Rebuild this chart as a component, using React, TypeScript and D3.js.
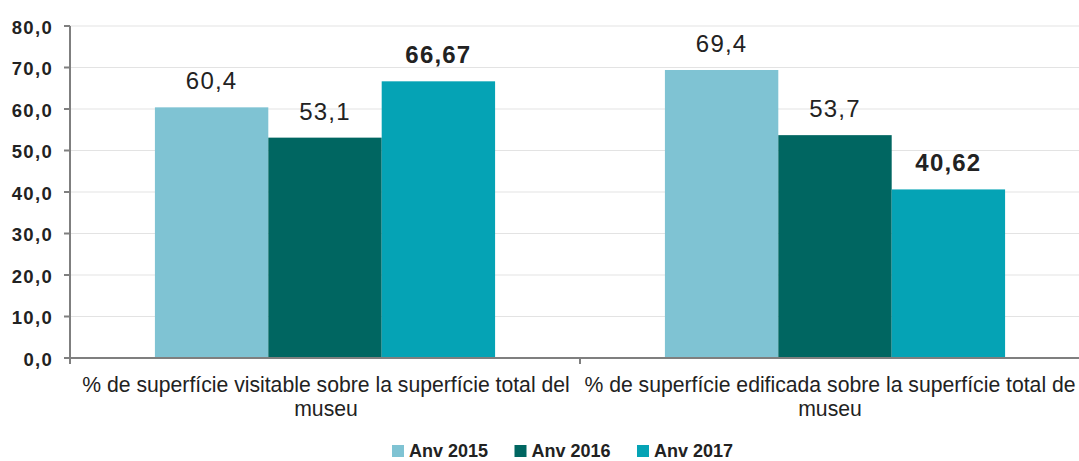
import React, { useRef, useEffect } from "react";
import * as d3 from "d3";

const categories = [
  ["% de superfície visitable sobre la superfície total del", "museu"],
  ["% de superfície edificada sobre la superfície total de", "museu"],
];
const seriesNames = ["Anv 2015", "Anv 2016", "Anv 2017"];
const values2015 = [60.4, 69.4];
const values2016 = [53.1, 53.7];
const values2017 = [66.67, 40.62];
const labels2015 = ["60,4", "69,4"];
const labels2016 = ["53,1", "53,7"];
const labels2017 = ["66,67", "40,62"];
const yTicks = [0, 10, 20, 30, 40, 50, 60, 70, 80];
const colors = ["#7fc3d3", "#006661", "#05a3b5"];

function App() {
  const svgRef = useRef(null);

  useEffect(() => {
    const svg = d3.select(svgRef.current);
    svg.selectAll("*").remove();
    const font = "'Liberation Sans', Arial, sans-serif";

    // plot area runs a bit past the right edge, like the source image
    const left = 70, right = 1090, top = 26, bottom = 358;
    const y = d3.scaleLinear().domain([0, 80]).range([bottom, top]);
    const x0 = d3.scaleBand().domain(["0", "1"]).range([left, right]);
    const x1 = d3.scaleBand().domain(["0", "1", "2"]).range([0, x0.bandwidth() * 0.667]);
    const offset = (x0.bandwidth() - x0.bandwidth() * 0.667) / 2;

    // gridlines
    svg.append("g").selectAll("line").data(yTicks.slice(1)).join("line")
      .attr("x1", left).attr("x2", right)
      .attr("y1", (d) => y(d)).attr("y2", (d) => y(d))
      .attr("stroke", "#e3e3e3").attr("stroke-width", 1);

    const series = [values2015, values2016, values2017];
    const labels = [labels2015, labels2016, labels2017];

    series.forEach((vals, s) => {
      svg.append("g").selectAll("rect").data(vals).join("rect")
        .attr("x", (d, i) => x0(String(i)) + offset + x1(String(s)))
        .attr("width", x1.bandwidth())
        .attr("y", (d) => y(d))
        .attr("height", (d) => bottom - y(d))
        .attr("fill", colors[s]);
      svg.append("g").selectAll("text").data(vals).join("text")
        .attr("x", (d, i) => x0(String(i)) + offset + x1(String(s)) + x1.bandwidth() / 2)
        .attr("y", (d) => y(d) - 18)
        .attr("text-anchor", "middle")
        .attr("font-family", font)
        .attr("font-size", 24)
        .attr("letter-spacing", 1.2)
        .attr("font-weight", s === 2 ? "bold" : "normal")
        .attr("fill", "#222")
        .text((d, i) => labels[s][i]);
    });

    // axes
    svg.append("line").attr("x1", left).attr("x2", left).attr("y1", top).attr("y2", bottom + 1)
      .attr("stroke", "#7f7f7f").attr("stroke-width", 2);
    svg.append("line").attr("x1", left - 6).attr("x2", right).attr("y1", bottom).attr("y2", bottom)
      .attr("stroke", "#7f7f7f").attr("stroke-width", 2);
    svg.append("g").selectAll("line").data(yTicks).join("line")
      .attr("x1", left - 6).attr("x2", left)
      .attr("y1", (d) => y(d)).attr("y2", (d) => y(d))
      .attr("stroke", "#7f7f7f").attr("stroke-width", 2);
    svg.append("g").selectAll("line").data([left, x0("1")]).join("line")
      .attr("x1", (d) => d).attr("x2", (d) => d)
      .attr("y1", bottom).attr("y2", bottom + 6)
      .attr("stroke", "#7f7f7f").attr("stroke-width", 2);

    svg.append("g").selectAll("text").data(yTicks).join("text")
      .attr("x", 53).attr("y", (d) => y(d) + 7.5)
      .attr("text-anchor", "end")
      .attr("font-family", font).attr("font-size", 18.5).attr("font-weight", "bold")
      .attr("letter-spacing", 1.3)
      .attr("fill", "#222")
      .text((d) => d3.format(".1f")(d).replace(".", ","));

    // category labels (the right one is pulled in to stay inside the frame)
    const labelShift = [1, -5];
    categories.forEach((lines, i) => {
      const cx = x0(String(i)) + x0.bandwidth() / 2 + labelShift[i];
      const t = svg.append("text")
        .attr("y", 391.5)
        .attr("text-anchor", "middle")
        .attr("font-family", font).attr("font-size", 21.2).attr("fill", "#222");
      lines.forEach((l, j) => {
        t.append("tspan").attr("x", cx).attr("dy", j === 0 ? 0 : 24.5).text(l);
      });
    });

    // legend
    const legendX = [392, 514.5, 637];
    seriesNames.forEach((n, i) => {
      svg.append("rect").attr("x", legendX[i]).attr("y", 445).attr("width", 12).attr("height", 12)
        .attr("fill", colors[i]);
      svg.append("text").attr("x", legendX[i] + 17).attr("y", 456.5)
        .attr("font-family", font).attr("font-size", 18).attr("font-weight", "bold")
        .attr("fill", "#222").text(n);
    });
  }, []);

  return (
    <div style={{ position: "absolute", left: 0, top: 0 }}>
      <svg ref={svgRef} width={1079} height={461} style={{ display: "block", background: "#fff" }} />
    </div>
  );
}

export default App;
